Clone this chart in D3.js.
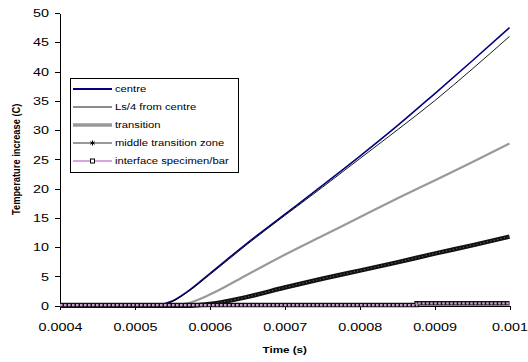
<!DOCTYPE html>
<html>
<head>
<meta charset="utf-8">
<script src="https://cdn.jsdelivr.net/npm/d3@7"></script>
<style>
  body { margin: 0; background: #fff; }
  svg { display: block; font-family: "Liberation Sans", Arial, sans-serif; }
  .axis path, .axis line { stroke: #000; stroke-width: 1; shape-rendering: crispEdges; }
  .axis text { fill: #000; }
  .axis-label { font-weight: bold; font-size: 9.3px; }
</style>
</head>
<body>
<svg id="chart"></svg>
<script>
// data
const times = [0.0004, 0.00045, 0.0005, 0.00052, 0.00053, 0.00055, 0.00057, 0.0006, 0.00065,
               0.0007, 0.00075, 0.0008, 0.00085, 0.0009, 0.00095, 0.001];
const centre = [0, 0, 0, 0, 0.1, 0.8, 2.4, 5.5, 10.7, 15.6, 20.5, 25.5, 30.7, 36.2, 41.8, 47.5];
const lsQuarter = [0, 0, 0, 0, 0.1, 0.7, 2.3, 5.3, 10.5, 15.4, 20.2, 25.1, 30.0, 35.0, 40.4, 46.0];
const transition = [0, 0, 0, 0, 0, 0.05, 0.4, 1.9, 5.3, 8.7, 11.9, 15.1, 18.3, 21.4, 24.5, 27.7];
const middleZone = [0, 0, 0, 0, 0, 0, 0, 0.3, 1.5, 3.1, 4.6, 6.0, 7.4, 8.9, 10.3, 11.8];
const interfaceTimes = [0.0004, 0.000876, 0.001];
const interfaceValues = [0.1, 0.4, 0.4];

const xTicks = [0.0004, 0.0005, 0.0006, 0.0007, 0.0008, 0.0009, 0.001];
const yTicks = [0, 5, 10, 15, 20, 25, 30, 35, 40, 45, 50];
const legendNames = ['centre', 'Ls/4 from centre', 'transition', 'middle transition zone', 'interface specimen/bar'];

const stretch = 1.25; // text in the picture is widened horizontally

const W = 528, H = 362;
const margin = {top: 13, right: 18.5, bottom: 56.3, left: 60};
const width = W - margin.left - margin.right;
const height = H - margin.top - margin.bottom;

const root = d3.select('#chart').attr('width', W).attr('height', H);
const svg = root.append('g').attr('transform', `translate(${margin.left},${margin.top})`);

const x = d3.scaleLinear().domain([0.0004, 0.001]).range([0, width]);
const y = d3.scaleLinear().domain([0, 50]).range([height, 0]);

const line = d3.line().x(d => x(d[0])).y(d => y(d[1])).curve(d3.curveMonotoneX);
const zip = vals => times.map((t, i) => [t, vals[i]]);

// X axis
const xAxis = svg.append('g')
    .attr('class', 'axis')
    .attr('transform', `translate(0,${height})`)
    .call(d3.axisBottom(x).tickValues(xTicks).tickSize(4).tickSizeOuter(0).tickFormat(d => d3.format('')(+d.toPrecision(4))));
xAxis.selectAll('text')
    .style('font-size', '11.5px')
    .attr('y', 17)
    .attr('transform', `scale(${stretch},1)`);

// Y axis
const yAxis = svg.append('g')
    .attr('class', 'axis')
    .call(d3.axisLeft(y).tickValues(yTicks).tickSize(5).tickSizeOuter(0));
yAxis.selectAll('text')
    .style('font-size', '11.5px')
    .attr('x', -11 / stretch)
    .attr('transform', `scale(${stretch},1)`);

// series
svg.append('path').datum(zip(centre))
    .attr('fill', 'none').attr('stroke', '#000080').attr('stroke-width', 1.6).attr('d', line);
svg.append('path').datum(zip(lsQuarter))
    .attr('fill', 'none').attr('stroke', '#000').attr('stroke-width', 0.9).attr('d', line);
svg.append('path').datum(zip(transition))
    .attr('fill', 'none').attr('stroke', '#999').attr('stroke-width', 2.2).attr('d', line);

// middle zone: markers so dense they form a textured band
svg.append('path').datum(zip(middleZone))
    .attr('fill', 'none').attr('stroke', '#111').attr('stroke-width', 4.5).attr('d', line);
svg.append('path').datum(zip(middleZone))
    .attr('fill', 'none').attr('stroke', '#777').attr('stroke-width', 1)
    .attr('stroke-dasharray', '1,2.5').attr('d', line);

// interface: dense square markers
const stepLine = d3.line().x(d => x(d[0])).y(d => y(d[1])).curve(d3.curveStepAfter);
const interfaceData = interfaceTimes.map((t, i) => [t, interfaceValues[i]]);
svg.append('path').datum(interfaceData)
    .attr('fill', 'none').attr('stroke', '#111').attr('stroke-width', 4.5).attr('d', stepLine);
svg.append('path').datum(interfaceData)
    .attr('fill', 'none').attr('stroke', '#c9a0d0').attr('stroke-width', 2.2)
    .attr('stroke-dasharray', '2.5,1.5').attr('d', stepLine);

// axis labels
svg.append('text')
    .attr('class', 'axis-label')
    .attr('text-anchor', 'middle')
    .attr('transform', `translate(${width / 2},${height + 47}) scale(${stretch},1)`)
    .text('Time (s)');

svg.append('text')
    .attr('class', 'axis-label')
    .attr('text-anchor', 'middle')
    .attr('transform', `translate(-40,${height / 2}) rotate(-90) scale(1,${stretch})`)
    .text('Temperature increase (C)');

// legend
const legend = root.append('g').attr('transform', 'translate(70,78)');
legend.append('rect')
    .attr('width', 168).attr('height', 94)
    .attr('fill', '#fff').attr('stroke', '#000').attr('stroke-width', 1)
    .attr('shape-rendering', 'crispEdges');

const legendStyles = [
    {stroke: '#000080', w: 1.8},
    {stroke: '#000', w: 0.9},
    {stroke: '#999', w: 3.5},
    {stroke: '#777', w: 1.5, marker: 'star'},
    {stroke: '#b04cb8', w: 1, marker: 'square'}
];

legendNames.forEach((name, i) => {
    const gy = 11 + i * 18;
    const s = legendStyles[i];
    legend.append('line')
        .attr('x1', 3).attr('x2', 42).attr('y1', gy).attr('y2', gy)
        .attr('stroke', s.stroke).attr('stroke-width', s.w);
    if (s.marker === 'star') {
        const sym = d3.symbol().type(d3.symbolAsterisk).size(18);
        legend.append('path').attr('d', sym())
            .attr('transform', `translate(22.5,${gy})`)
            .attr('stroke', '#000').attr('stroke-width', 1).attr('fill', 'none');
    }
    if (s.marker === 'square') {
        legend.append('rect')
            .attr('x', 20.5).attr('y', gy - 2).attr('width', 4).attr('height', 4)
            .attr('fill', '#fff').attr('stroke', '#000').attr('stroke-width', 1);
    }
    legend.append('text')
        .attr('transform', `translate(45,${gy + 3.2}) scale(${stretch},1)`)
        .style('font-size', '9px')
        .text(name);
});
</script>
</body>
</html>
